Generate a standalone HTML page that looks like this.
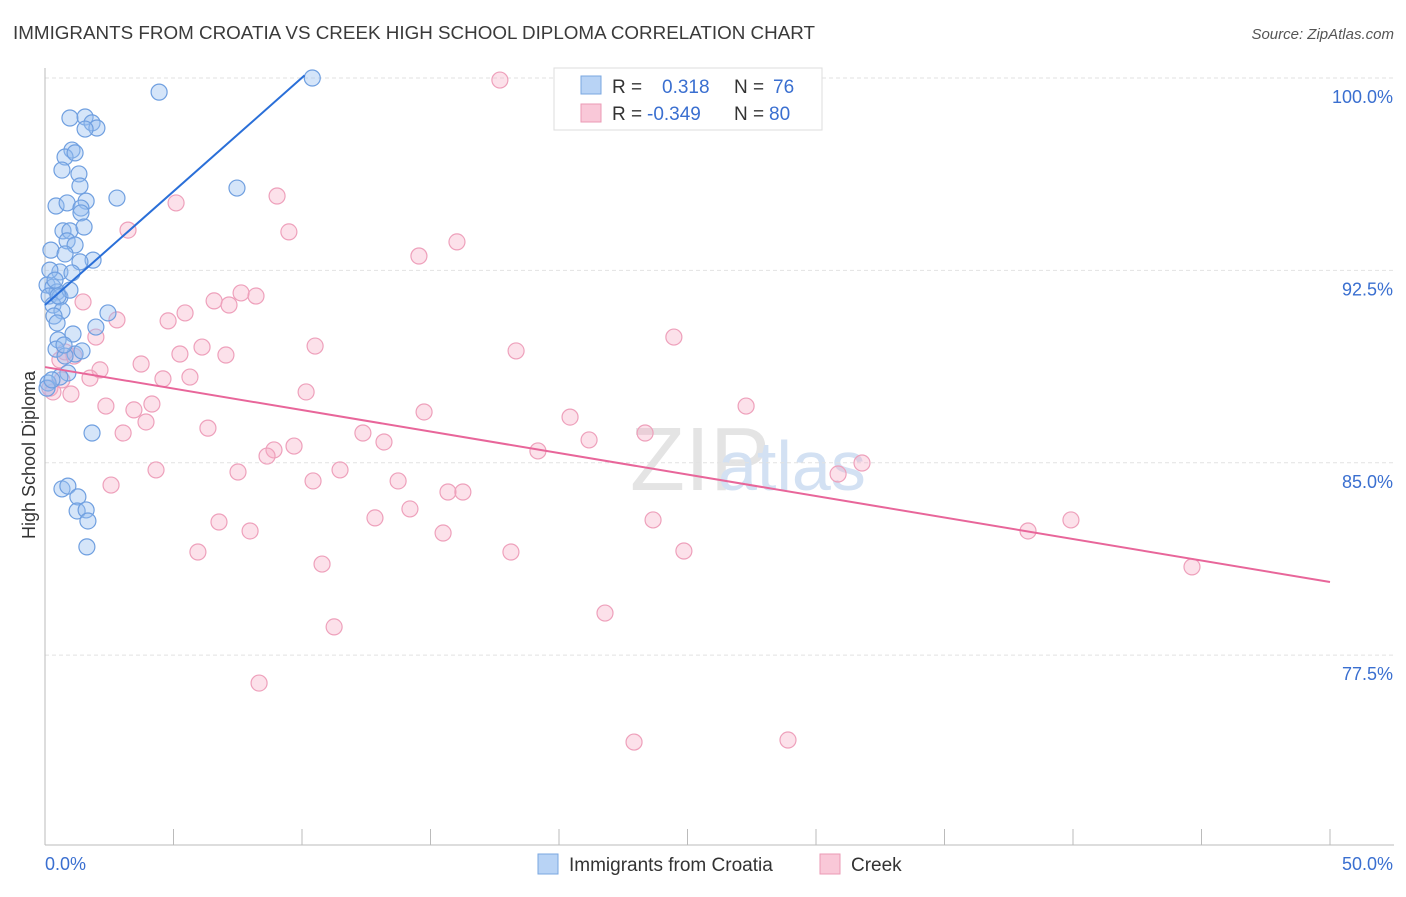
<!DOCTYPE html>
<html><head><meta charset="utf-8"><style>
body{margin:0;background:#fff;font-family:"Liberation Sans",sans-serif}
svg text{font-family:"Liberation Sans",sans-serif}
</style></head><body>
<svg id="c" width="1406" height="892">
<text x="13" y="39" font-size="18" fill="#3a3a3a" textLength="802" lengthAdjust="spacingAndGlyphs">IMMIGRANTS FROM CROATIA VS CREEK HIGH SCHOOL DIPLOMA CORRELATION CHART</text>
<text x="1394" y="39" font-size="15" fill="#555" font-style="italic" text-anchor="end">Source: ZipAtlas.com</text>
<text x="35" y="455" font-size="18" fill="#333" text-anchor="middle" transform="rotate(-90 35 455)">High School Diploma</text>
<text x="630" y="490" font-size="90" fill="#e4e4e4" font-family="Liberation Serif">ZIP</text>
<text x="718" y="490" font-size="70" fill="#d3e1f3">atlas</text>
<g id="grid"></g><g id="pts"></g><g id="lines"></g>
<g>
<rect x="554" y="68" width="268" height="62" fill="#fff" stroke="#ddd"/>
<rect x="581" y="76" width="20" height="18" fill="#b8d3f5" stroke="#7aa7e0"/>
<rect x="581" y="104" width="20" height="18" fill="#f9c8d8" stroke="#eb9ab5"/>
<text x="612" y="93" font-size="19" fill="#333">R = </text><text x="662" y="93" font-size="19" fill="#3a6fd0">0.318</text>
<text x="734" y="93" font-size="19" fill="#333">N = </text><text x="773" y="93" font-size="19" fill="#3a6fd0">76</text>
<text x="612" y="120" font-size="19" fill="#333">R = </text><text x="647" y="120" font-size="19" fill="#3a6fd0">-0.349</text>
<text x="734" y="120" font-size="19" fill="#333">N = </text><text x="769" y="120" font-size="19" fill="#3a6fd0">80</text>
</g>
<g>
<rect x="538" y="854" width="20" height="20" fill="#b8d3f5" stroke="#7aa7e0"/>
<text x="569" y="871" font-size="19" fill="#333">Immigrants from Croatia</text>
<rect x="820" y="854" width="20" height="20" fill="#f9c8d8" stroke="#eb9ab5"/>
<text x="851" y="871" font-size="19" fill="#333">Creek</text>
</g>
</svg>
<script>
const blueX=[10.4,4.44,0.97,1.56,1.83,2.02,1.56,1.05,0.78,1.17,0.66,1.32,1.36,2.8,7.47,0.43,0.86,1.6,1.4,1.4,0.7,0.97,1.52,0.86,1.17,0.23,0.78,1.87,1.36,0.58,1.05,0.19,0.08,0.31,0.47,0.16,0.58,0.97,0.31,0.66,0.35,2.45,0.47,1.98,1.09,0.51,0.43,1.17,1.44,0.78,0.89,0.58,0.12,0.08,1.83,0.66,0.89,1.28,1.25,1.6,1.67,1.63,0.27,0.51,0.39,0.74];
const blueY=[100,99.45,98.44,98.48,98.25,98.05,98.01,97.19,96.92,97.08,96.41,96.26,95.79,95.32,95.71,95.01,95.13,95.2,94.93,94.74,94.04,94.04,94.19,93.65,93.49,93.29,93.14,92.9,92.83,92.44,92.4,92.51,91.93,91.85,91.66,91.5,91.46,91.73,91.15,90.92,90.72,90.84,90.45,90.29,90.02,89.79,89.43,89.24,89.36,89.16,88.5,88.34,88.11,87.91,86.16,83.98,84.09,83.67,83.12,83.16,82.73,81.72,88.23,91.5,92.12,89.59];
const pinkX=[17.7,9.03,5.1,9.49,3.23,16.03,14.55,1.48,6.58,7.16,7.63,8.21,5.45,4.79,2.8,1.98,24.47,10.51,18.33,6.11,5.25,7.04,3.74,0.58,1.13,2.14,4.59,5.64,1.75,0.66,10.16,0.19,1.01,27.28,2.37,3.46,4.16,14.75,3.93,20.43,3.04,6.34,12.37,13.19,21.17,23.35,9.69,8.91,8.64,19.18,4.32,7.51,11.48,31.79,30.86,10.43,13.74,2.57,15.68,16.26,14.2,12.84,6.77,7.98,23.66,39.92,38.25,15.49,5.95,18.13,24.86,10.78,44.63,21.79,11.25,8.33,22.92,28.91,0.31,0.78];
const pinkY=[99.92,95.4,95.13,94,94.07,93.61,93.06,91.27,91.31,91.15,91.62,91.5,90.84,90.53,90.57,89.9,89.9,89.55,89.36,89.51,89.24,89.2,88.85,89.01,89.16,88.62,88.27,88.34,88.3,88.23,87.76,87.91,87.68,87.21,87.21,87.06,87.29,86.98,86.59,86.78,86.16,86.35,86.16,85.81,85.89,86.16,85.65,85.5,85.26,85.46,84.72,84.64,84.72,84.99,84.56,84.29,84.29,84.13,83.86,83.86,83.2,82.85,82.69,82.34,82.77,82.77,82.34,82.26,81.52,81.52,81.56,81.05,80.94,79.14,78.6,76.41,74.11,74.19,87.76,89.32];
const blueTrend=[[0,91.15],[10.1,100.1]];
const pinkTrend=[[0,88.73],[50,80.35]];
const yTicks=[100,92.5,85,77.5];
const yTickLabels=["100.0%","92.5%","85.0%","77.5%"];
const xTicks=[0,5,10,15,20,25,30,35,40,45,50];
const xs=v=>45+v*25.7, ys=v=>78+(100-v)*25.65;
const NS="http://www.w3.org/2000/svg";
function mk(p,t,a){const e=document.createElementNS(NS,t);for(const k in a)e.setAttribute(k,a[k]);p.appendChild(e);return e;}
const g=document.getElementById('grid'),P=document.getElementById('pts'),L=document.getElementById('lines');
yTicks.forEach((v,i)=>{
 const l=mk(g,'line',{x1:45,x2:1394,y1:ys(v),y2:ys(v),stroke:'#e2e2e2','stroke-dasharray':'4 3'});
 
 
 const t=mk(g,'text',{x:1393,y:ys(v)+25,'font-size':18,fill:'#3a6fd0','text-anchor':'end'});t.textContent=yTickLabels[i];
 
 
});
mk(g,'line',{x1:45,x2:45,y1:68,y2:845,stroke:'#bbb'});
mk(g,'line',{x1:45,x2:1394,y1:845,y2:845,stroke:'#bbb'});
xTicks.forEach(v=>{const l=mk(g,'line',{x1:xs(v),x2:xs(v),y1:829,y2:845,stroke:'#bbb'});
 
 });
let t=mk(g,'text',{x:45,y:870,'font-size':18,fill:'#3a6fd0'});t.textContent='0.0%';


t=mk(g,'text',{x:1393,y:870,'font-size':18,fill:'#3a6fd0','text-anchor':'end'});t.textContent='50.0%';


pinkX.forEach((x,i)=>{const c=mk(P,'circle',{cx:xs(x),cy:ys(pinkY[i]),r:8,fill:'rgba(246,170,196,0.35)',stroke:'#eea0bb','stroke-width':1.2});
 
 });
blueX.forEach((x,i)=>{const c=mk(P,'circle',{cx:xs(x),cy:ys(blueY[i]),r:8,fill:'rgba(150,190,240,0.4)',stroke:'#6f9fe0','stroke-width':1.2});
 
 });
let l=mk(L,'line',{x1:xs(blueTrend[0][0]),y1:ys(blueTrend[0][1]),x2:xs(blueTrend[1][0]),y2:ys(blueTrend[1][1]),stroke:'#2a6fd8','stroke-width':2});


l=mk(L,'line',{x1:xs(pinkTrend[0][0]),y1:ys(pinkTrend[0][1]),x2:xs(pinkTrend[1][0]),y2:ys(pinkTrend[1][1]),stroke:'#e8669a','stroke-width':2});


</script>
</body></html>
